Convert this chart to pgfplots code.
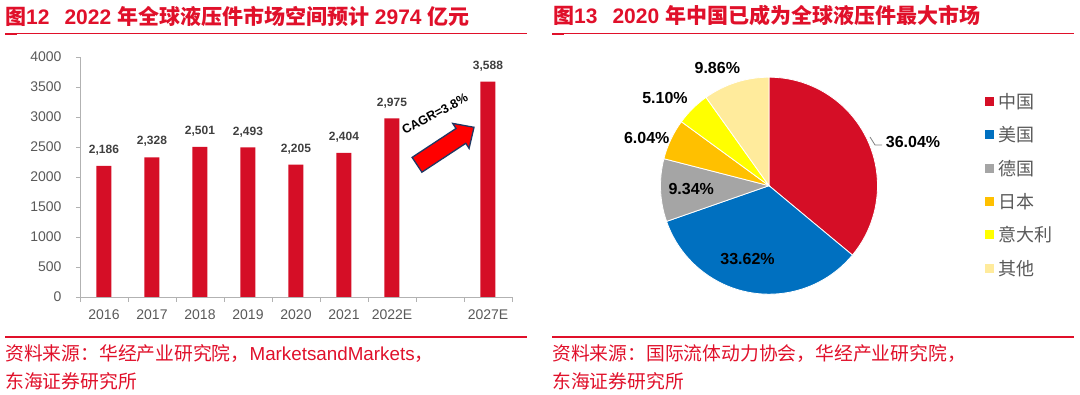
\documentclass[border=0pt]{standalone}
\usepackage{pgfplots}
\pgfplotsset{compat=1.18}
\usepackage{pgfplotstable}
\usepackage{fontspec}
\setmainfont{Liberation Sans}
\newfontfamily\cjk{Noto Sans CJK SC}
\definecolor{barred}{HTML}{D50E26}
\definecolor{tred}{HTML}{E0102A}
\definecolor{pblue}{HTML}{0070C0}
\definecolor{pgray}{HTML}{A5A5A5}
\definecolor{porange}{HTML}{FFC000}
\definecolor{pyellow}{HTML}{FFFF00}
\definecolor{plight}{HTML}{FFEB9C}
\definecolor{tickgray}{HTML}{595959}
\definecolor{navy}{HTML}{1F3864}

\pgfplotstableread{
x y label
0 2186 {2,186}
1 2328 {2,328}
2 2501 {2,501}
3 2493 {2,493}
4 2205 {2,205}
5 2404 {2,404}
6 2975 {2,975}
8 3588 {3,588}
}\bardata

\pgfplotstableread{
share
36.04
33.62
9.34
6.04
5.10
9.86
}\piedata

\newcommand\slice[2]{%
  \filldraw[fill=#2, draw=white, line width=0.8pt] (0,0) -- ++(\csname pieA#1\endcsname:108.5pt)
    arc[start angle=\csname pieA#1\endcsname, end angle=\csname pieB#1\endcsname, radius=108.5pt] -- cycle;}

\begin{document}
\begin{tikzpicture}[x=1pt,y=1pt]
\useasboundingbox (0,0) rectangle (1080,395);
% ---------- titles ----------
\node[anchor=west, inner sep=0, text=tred, font=\bfseries\fontsize{21}{21}\selectfont] at (5,379)
  {{\cjk 图}12\hspace{15pt}2022 {\cjk 年全球液压件市场空间预计} 2974 {\cjk 亿元}};
\node[anchor=west, inner sep=0, text=tred, font=\bfseries\fontsize{21}{21}\selectfont] at (553,379)
  {{\cjk 图}13\hspace{15pt}2020 {\cjk 年中国已成为全球液压件最大市场}};
\fill[tred] (5,360.5) rectangle (527,361.5);
\fill[tred] (5,359.7) rectangle (16.7,361.7);
\fill[tred] (552,360.5) rectangle (1074,361.5);
\fill[tred] (552,359.7) rectangle (563.7,361.7);
% ---------- footers ----------
\fill[tred] (5,56.7) rectangle (527,58.7);
\fill[tred] (552,56.7) rectangle (1074,58.7);
\node[anchor=west, inner sep=0, text=tred, font=\fontsize{18.8}{18.8}\selectfont] at (5,41.7)
  {{\cjk 资料来源：华经产业研究院，}MarketsandMarkets{\cjk ，}};
\node[anchor=west, inner sep=0, text=tred, font=\fontsize{18.8}{18.8}\selectfont] at (5,13.3)
  {{\cjk 东海证券研究所}};
\node[anchor=west, inner sep=0, text=tred, font=\fontsize{18.8}{18.8}\selectfont] at (552,41.7)
  {{\cjk 资料来源：国际流体动力协会，华经产业研究院，}};
\node[anchor=west, inner sep=0, text=tred, font=\fontsize{18.8}{18.8}\selectfont] at (552,13.3)
  {{\cjk 东海证券研究所}};

% ---------- bar chart ----------
\begin{axis}[
  at={(80pt,98pt)}, anchor=south west,
  scale only axis, width=432pt, height=240pt,
  ybar, bar width=15pt,
  xmin=-0.5, xmax=8.5, ymin=0, ymax=4000,
  axis x line*=bottom, axis y line*=left,
  axis line style={draw=black!30, line width=0.8pt, -},
  ytick={0,500,...,4000},
  xtick={0,1,2,3,4,5,6,8},
  xticklabels={2016,2017,2018,2019,2020,2021,2022E,2027E},
  major x tick style={draw=none},
  minor xtick={-0.5,0.5,...,8.5},
  minor tick length=5pt,
  major tick length=4pt,
  tick align=outside,
  tick style={draw=black!30, line width=0.8pt},
  ticklabel style={font=\fontsize{14}{14}\selectfont, text=tickgray},
  xticklabel style={yshift=-5pt},
  yticklabel style={xshift=-11pt},
  /pgf/number format/assume math mode=true,
  /pgf/number format/1000 sep={},
  clip=false,
]
\addplot[fill=barred, draw=none, point meta=explicit symbolic,
  nodes near coords,
  nodes near coords style={font=\bfseries\fontsize{12}{12}\selectfont, text=black!75, yshift=7pt}]
  table[x=x, y=y, meta=label] {\bardata};
\end{axis}
% growth arrow annotation
\filldraw[fill=red, draw=navy, line width=1.3pt, line join=miter]
  (412.1,237.6) -- (456.0,266.5) -- (452.7,271.6) -- (474,267.7) -- (469.1,246.6) -- (465.8,251.7) -- (421.9,222.8) -- cycle;
\node[rotate=28, inner sep=0, font=\bfseries\fontsize{12.5}{12.5}\selectfont, text=black] at (435,281) {CAGR=3.8\%};

% ---------- pie chart ----------
\def\acc{0}
\pgfplotsforeachungrouped \i in {0,...,5}{%
  \pgfplotstablegetelem{\i}{share}\of\piedata
  \pgfmathsetmacro\tmpA{90-3.6*\acc}%
  \pgfmathsetmacro\acc{\acc+\pgfplotsretval}%
  \pgfmathsetmacro\tmpB{90-3.6*\acc}%
  \expandafter\let\csname pieA\i\endcsname\tmpA
  \expandafter\let\csname pieB\i\endcsname\tmpB
}
\begin{axis}[hide axis, scale only axis, width=217pt, height=217pt,
  xmin=-1, xmax=1, ymin=-1, ymax=1, at={(660.5pt,100.8pt)}, anchor=south west, clip=false]
\slice{0}{barred}
\slice{1}{pblue}
\slice{2}{pgray}
\slice{3}{porange}
\slice{4}{pyellow}
\slice{5}{plight}
\end{axis}
% pie labels
\draw[black!50, line width=0.8pt] (870,258) -- (875,250) -- (882,250);
\begin{scope}[every node/.style={font=\bfseries\fontsize{16}{16}\selectfont, text=black, inner sep=0}]
\node[anchor=west] at (885.7,253.3) {36.04\%};
\node at (747.5,136) {33.62\%};
\node at (691.2,205.7) {9.34\%};
\node at (646.7,257) {6.04\%};
\node at (665,297.3) {5.10\%};
\node at (717.3,326.7) {9.86\%};
\end{scope}
% legend
\foreach \y/\c/\t in {293.3/barred/中国, 260/pblue/美国, 226.7/pgray/德国, 193.3/porange/日本, 160/pyellow/意大利, 126.7/plight/其他}{
  \fill[\c] (985,\y-4.5) rectangle (994,\y+4.5);
  \node[anchor=west, inner sep=0, text=tickgray, font=\cjk\fontsize{18}{18}\selectfont] at (998.5,\y) {\t};
}
\end{tikzpicture}
\end{document}
